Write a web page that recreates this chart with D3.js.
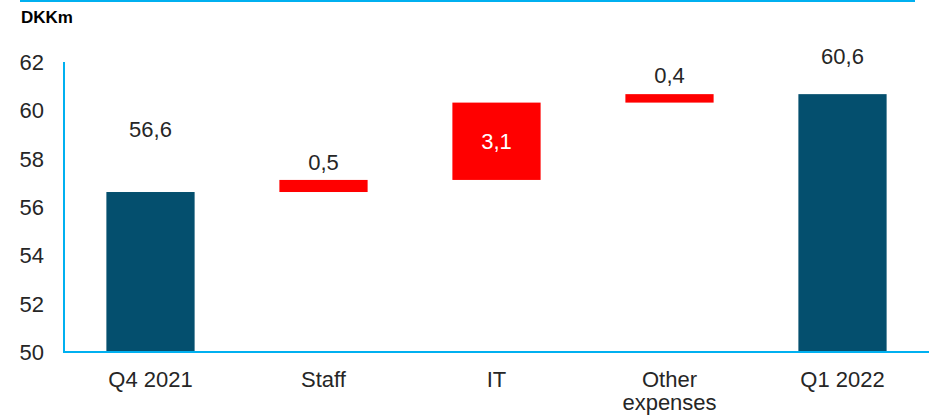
<!DOCTYPE html>
<html>
<head>
<meta charset="utf-8">
<script src="https://cdn.jsdelivr.net/npm/d3@7"></script>
<style>
  html, body { margin: 0; padding: 0; background: #ffffff; }
  svg { display: block; }
  text { font-family: "Liberation Sans", Arial, sans-serif; }
</style>
</head>
<body>
<svg id="chart" width="932" height="417"></svg>
<script>
// ---- data ----
const categories = ["Q4 2021", "Staff", "IT", "Other expenses", "Q1 2022"];
const kinds = ["total", "delta", "delta", "delta", "total"];
const values = [56.62, 0.5, 3.2, 0.35, 60.67];
const valueLabels = ["56,6", "0,5", "3,1", "0,4", "60,6"];
const yTicks = [50, 52, 54, 56, 58, 60, 62];
const yUnit = "DKKm";

// ---- layout ----
const W = 932, H = 417;
const margin = { left: 64, right: 3, top: 62, bottom: 65 };
const blue = "#00B0F0";
const navy = "#044F6E";
const red = "#FF0000";
const textCol = "#262626";

const svg = d3.select("#chart");

const x = d3.scaleBand()
  .domain(categories)
  .range([margin.left, W - margin.right])
  .paddingInner(0.49)
  .paddingOuter(0.245);

const y = d3.scaleLinear()
  .domain([50, 62])
  .range([H - margin.bottom, margin.top]);

// compute waterfall segments
let running = 0;
const segs = categories.map((c, i) => {
  let lo, hi;
  if (kinds[i] === "total") { lo = 50; hi = values[i]; running = values[i]; }
  else { lo = running; hi = running + values[i]; running = hi; }
  return { cat: c, kind: kinds[i], lo, hi, label: valueLabels[i] };
});

// top rule
svg.append("line")
  .attr("x1", 20).attr("x2", 915)
  .attr("y1", 1).attr("y2", 1)
  .attr("stroke", blue).attr("stroke-width", 2);

// unit label
svg.append("text")
  .attr("x", 21).attr("y", 23)
  .attr("font-size", 17).attr("font-weight", "bold")
  .attr("fill", "#000")
  .text(yUnit);

// y tick labels
svg.append("g").selectAll("text")
  .data(yTicks).join("text")
  .attr("x", 44)
  .attr("y", d => y(d))
  .attr("dy", "0.36em")
  .attr("text-anchor", "end")
  .attr("font-size", 22)
  .attr("fill", textCol)
  .text(d => d);

// bars
svg.append("g").selectAll("rect")
  .data(segs).join("rect")
  .attr("x", d => x(d.cat))
  .attr("width", x.bandwidth())
  .attr("y", d => y(d.hi))
  .attr("height", d => y(d.lo) - y(d.hi))
  .attr("fill", d => d.kind === "total" ? navy : red);

// axes lines
svg.append("line")
  .attr("x1", margin.left).attr("x2", margin.left)
  .attr("y1", y(62)).attr("y2", y(50) + 1)
  .attr("stroke", blue).attr("stroke-width", 2);
svg.append("line")
  .attr("x1", margin.left - 1).attr("x2", W - margin.right)
  .attr("y1", y(50)).attr("y2", y(50))
  .attr("stroke", blue).attr("stroke-width", 2);

// value labels
const labelDy = [-55, -10, null, -11, -30];
svg.append("g").selectAll("text")
  .data(segs).join("text")
  .attr("x", d => x(d.cat) + x.bandwidth() / 2)
  .attr("y", (d, i) => labelDy[i] === null ? (y(d.lo) + y(d.hi)) / 2 : y(d.hi) + labelDy[i])
  .attr("dy", (d, i) => labelDy[i] === null ? "0.36em" : 0)
  .attr("text-anchor", "middle")
  .attr("font-size", 22)
  .attr("fill", (d, i) => labelDy[i] === null ? "#ffffff" : textCol)
  .text(d => d.label);

// category labels
const catG = svg.append("g");
categories.forEach(c => {
  const words = c === "Other expenses" ? ["Other", "expenses"] : [c];
  const t = catG.append("text")
    .attr("x", x(c) + x.bandwidth() / 2)
    .attr("y", 387)
    .attr("text-anchor", "middle")
    .attr("font-size", 22)
    .attr("fill", textCol);
  words.forEach((w, k) => {
    t.append("tspan")
      .attr("x", x(c) + x.bandwidth() / 2)
      .attr("dy", k === 0 ? 0 : 23)
      .text(w);
  });
});
</script>
</body>
</html>
